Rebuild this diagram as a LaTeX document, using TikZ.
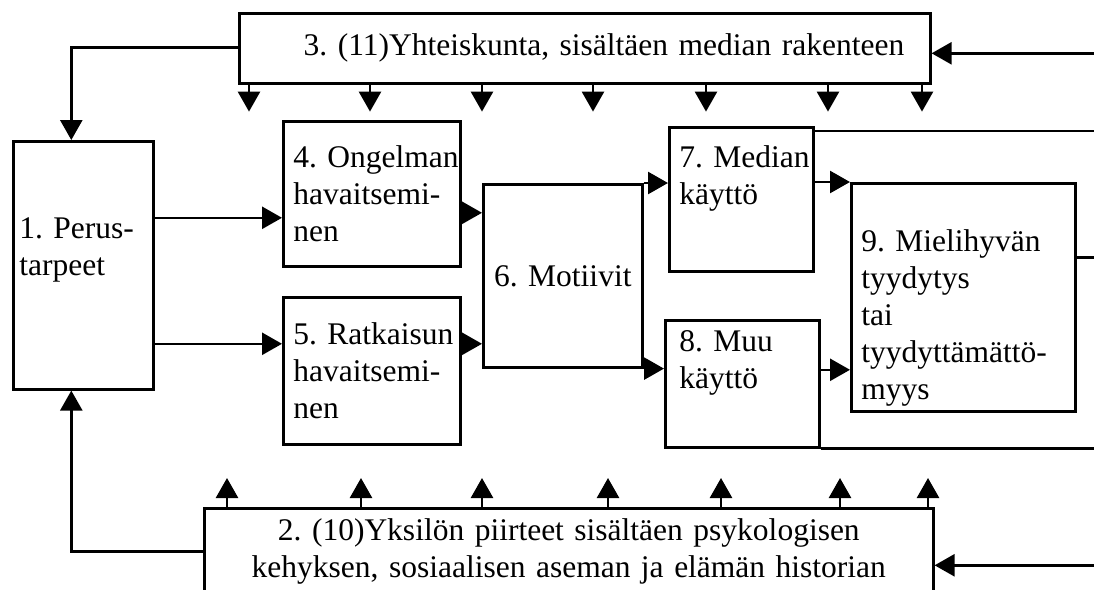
\documentclass[tikz,border=0pt]{standalone}
\usepackage{fontspec}
\setmainfont{Liberation Serif}
\usetikzlibrary{arrows.meta}

\hyphenpenalty = 10000

\tikzset{
	block/.style = {draw, anchor = north west, inner xsep = 10pt, inner ysep = 0pt, align = left, font = \fontsize{31.5}{37}\selectfont\frenchspacing},
}

\begin{document}
\begin{tikzpicture}[x = 1pt, y = -1pt, > = {Triangle[length = 20pt, width = 22pt]}, line width = 2.6pt]

	\clip (0, 0) rectangle (1094, 589);
	\coordinate (rim) at (1120, 0);

	% The boxes

	\node [block, inner xsep = 6pt, text width = 128pt, minimum height = 248pt] (needs) at (12, 140) {1.~Perus-\\tarpeet\\\mbox{}};
	\node [block, align = right, inner xsep = 26pt, text width = 639pt, minimum height = 70pt] (society) at (238, 12) {3. (11)Yhteiskunta, sisältäen median rakenteen};
	\node [block, align = center, inner xsep = 5pt, text width = 719pt, minimum height = 128pt] (traits) at (203, 507) {2. (10)Yksilön piirteet sisältäen psykologisen\\kehyksen, sosiaalisen aseman ja elämän historian\\\strut};
	\node [block, text width = 157pt, minimum height = 145pt] (problem) at (282, 120) {4.~Ongelman\\havaitsemi-\\nen};
	\node [block, text width = 157pt, minimum height = 147pt] (solution) at (282, 296) {5.~Ratkaisun\\havaitsemi-\\nen};
	\node [block, align = center, text width = 139pt, minimum height = 183pt] (motives) at (482, 183) {6.~Motiivit};
	\node [block, text width = 124pt, minimum height = 144pt] (media) at (668, 126) {7.~Median\\käyttö\\\strut};
	\node [block, inner xsep = 14pt, text width = 126pt, minimum height = 127pt] (other) at (664, 319) {8.~Muu\\käyttö\\\strut};
	\node [block, text width = 204pt, minimum height = 228pt] (pleasure) at (850, 182) {\strut\\9.~Mielihyvän\\tyydytys\\tai\\tyydyttämättö-\\myys};

	% Helper points on the boxes

	\coordinate (p1) at ([yshift = -24pt]problem.west);
	\coordinate (p2) at ([yshift = 27pt]solution.west);
	\coordinate (p3) at ([yshift = -19pt]problem.east);
	\coordinate (p4) at ([yshift = 27pt]solution.east);
	\coordinate (p5) at ([yshift = 14pt]other.east);
	\coordinate (f1) at ([yshift = -5pt]media.north east);
	\coordinate (f2) at ([yshift = 40pt]pleasure.east);
	\coordinate (f3) at ([yshift = -5pt]society.east);
	\coordinate (f4) at ([yshift = 7pt]traits.east);

	% Arrows

	\begin{scope}[->]

		\draw ([yshift = 1pt]society.west) -| ([xshift = -12pt]needs.north);
		\draw ([yshift = 21pt]traits.west) -| ([xshift = -12pt]needs.south);

		\draw (needs.east |- p1) -- (p1);
		\draw (needs.east |- p2) -- (p2);
		\draw (p3) -- (p3 -| motives.west);
		\draw (p4) -- (p4 -| motives.west);

		\draw (motives.north east) -- (motives.north east -| media.west);
		\draw (motives.south east) -- (motives.south east -| other.west);
		\draw (media.east |- pleasure.north) -- (pleasure.north west);
		\draw (p5) -- (p5 -| pleasure.west);

		\draw (f3 -| rim) -- (f3);
		\draw (f4 -| rim) -- (f4);

		\foreach \x in {249, 370, 482, 593, 706, 828, 922}
			\draw (\x, 0 |- society.south) -- ++(0, 27);
		\foreach \x in {227, 361, 482, 608, 721, 840, 928}
			\draw (\x, 0 |- traits.north) -- ++(0, -29);

	\end{scope}

	% Lines running off to the right

	\draw (f1) -- (f1 -| rim);
	\draw (f2) -- (f2 -| rim);
	\draw (other.south east) -- (other.south east -| rim);

\end{tikzpicture}
\end{document}
